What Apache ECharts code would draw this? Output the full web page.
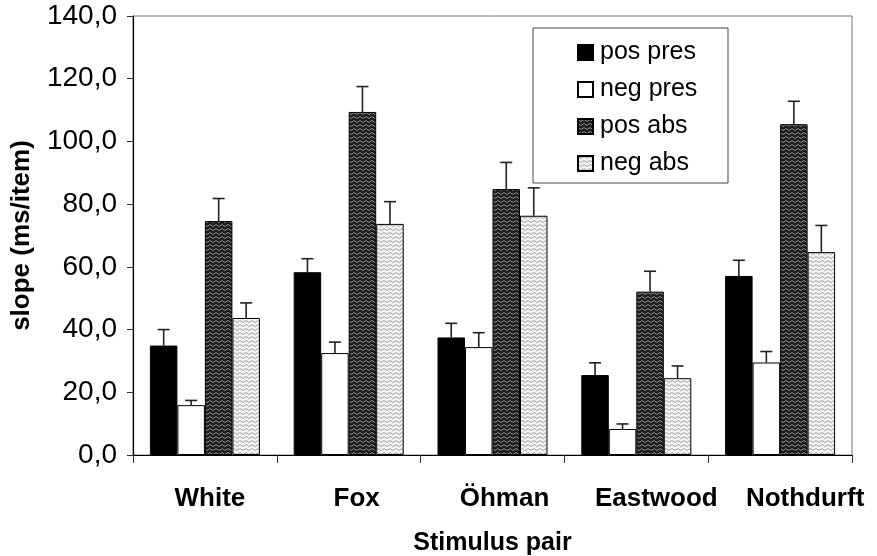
<!DOCTYPE html>
<html><head><meta charset="utf-8">
<script src="https://cdn.jsdelivr.net/npm/echarts@6/dist/echarts.min.js"></script>
<style>html,body{margin:0;padding:0;background:#fff}#c{width:877px;height:556px}</style>
</head><body><div id="c"></div>
<script>
const categories = ['White', 'Fox', 'Öhman', 'Eastwood', 'Nothdurft'];
const seriesNames = ['pos pres', 'neg pres', 'pos abs', 'neg abs'];
const posPres    = [34.9, 58.3, 37.5, 25.5, 57.1];
const posPresErr = [5.1, 4.3, 4.5, 3.9, 5.0];
const negPres    = [15.9, 32.5, 34.4, 8.3, 29.5];
const negPresErr = [1.5, 3.5, 4.6, 1.6, 3.5];
const posAbs     = [74.6, 109.4, 84.8, 52.1, 105.5];
const posAbsErr  = [7.2, 8.1, 8.5, 6.5, 7.3];
const negAbs     = [43.7, 73.7, 76.3, 24.5, 64.7];
const negAbsErr  = [4.8, 7.1, 8.9, 3.9, 8.5];
const yMin = 0, yMax = 140, yStep = 20;

function makePattern(bg, fg) {
  const c = document.createElement('canvas');
  c.width = 6; c.height = 4;
  const ctx = c.getContext('2d');
  ctx.fillStyle = bg; ctx.fillRect(0, 0, 6, 4);
  ctx.strokeStyle = fg; ctx.lineWidth = 1;
  ctx.beginPath(); ctx.moveTo(0, 0.5); ctx.lineTo(3, 2.5); ctx.lineTo(6, 0.5); ctx.stroke();
  return { image: c, repeat: 'repeat' };
}
const fills = ['#000', '#fff', makePattern('#1e1e1e', '#8e8e8e'), makePattern('#f2f2f2', '#a4a4a4')];
const values = [posPres, negPres, posAbs, negAbs];
const errs = [posPresErr, negPresErr, posAbsErr, negAbsErr];
const BW = 27.5;

const series = [];
values.forEach((vals, k) => {
  series.push({
    name: seriesNames[k], type: 'bar', data: vals, barWidth: BW, barGap: '0%',
    itemStyle: { color: fills[k], borderColor: '#000', borderWidth: 1 },
    z: 2
  });
});
values.forEach((vals, k) => {
  const off = (k - 1.5) * BW;
  series.push({
    name: 'err' + k, type: 'custom', z: 5,
    data: vals.map((v, i) => [i, v, errs[k][i]]),
    renderItem: function (params, api) {
      const p0 = api.coord([api.value(0), api.value(1)]);
      const p1 = api.coord([api.value(0), api.value(1) + api.value(2)]);
      const x = p0[0] + off;
      const st = { stroke: '#222', lineWidth: 1.6 };
      return { type: 'group', children: [
        { type: 'line', shape: { x1: x, y1: p0[1], x2: x, y2: p1[1] }, style: st },
        { type: 'line', shape: { x1: x - 6, y1: p1[1], x2: x + 6, y2: p1[1] }, style: st }
      ]};
    }
  });
});

// label shift to the right (the reference's labels drift right across the axis)
const labelShift = [5, 8, 12, 20, 25];
const rich = {};
labelShift.forEach((s, i) => {
  rich['c' + i] = { fontFamily: 'Liberation Sans', fontWeight: 'bold', fontSize: 26, color: '#000', padding: [0, 0, 0, 2 * s] };
});

const chart = echarts.init(document.getElementById('c'), null, { renderer: 'canvas' });
chart.setOption({
  animation: false,
  backgroundColor: '#fff',
  grid: { left: 133, right: 25, top: 16, bottom: 101, containLabel: false, outerBoundsMode: 'none',
    show: true, borderColor: '#777', borderWidth: 1 },
  graphic: [{ type: 'rect', z: 0, shape: { x: 533, y: 28, width: 195, height: 155 },
    style: { fill: '#fff', stroke: '#444', lineWidth: 1 } }],
  legend: {
    data: seriesNames, orient: 'vertical', left: 577, top: 40, padding: 0,
    itemWidth: 15, itemHeight: 15, itemGap: 12, icon: 'rect', z: 10,
    textStyle: { fontFamily: 'Liberation Sans', fontSize: 25, color: '#000', padding: [0, 0, 0, 2] }
  },
  xAxis: {
    type: 'category', data: categories,
    axisLine: { lineStyle: { color: '#000', width: 1.2 } },
    axisTick: { show: true, alignWithLabel: false, interval: 0, length: 8, lineStyle: { color: '#333' } },
    axisLabel: { interval: 0, hideOverlap: false, fontFamily: 'Liberation Sans', fontWeight: 'bold', fontSize: 26, color: '#000', margin: 31,
      formatter: (v, i) => '{c' + i + '|' + v + '}', rich: rich },
    name: 'Stimulus pair', nameLocation: 'middle', nameGap: 76,
    nameTextStyle: { fontFamily: 'Liberation Sans', fontWeight: 'bold', fontSize: 25, color: '#000' }
  },
  yAxis: {
    type: 'value', min: yMin, max: yMax, interval: yStep,
    axisLine: { show: true, lineStyle: { color: '#000', width: 1.2 } },
    axisTick: { show: true, length: 6, lineStyle: { color: '#333' } },
    splitLine: { show: false },
    axisLabel: { fontFamily: 'Liberation Sans', fontSize: 28, color: '#000', margin: 16,
      formatter: v => v.toFixed(1).replace('.', ',') },
    name: 'slope (ms/item)', nameLocation: 'middle', nameGap: 98,
    nameTextStyle: { fontFamily: 'Liberation Sans', fontWeight: 'bold', fontSize: 26, color: '#000' }
  },
  series: series
});
</script></body></html>
